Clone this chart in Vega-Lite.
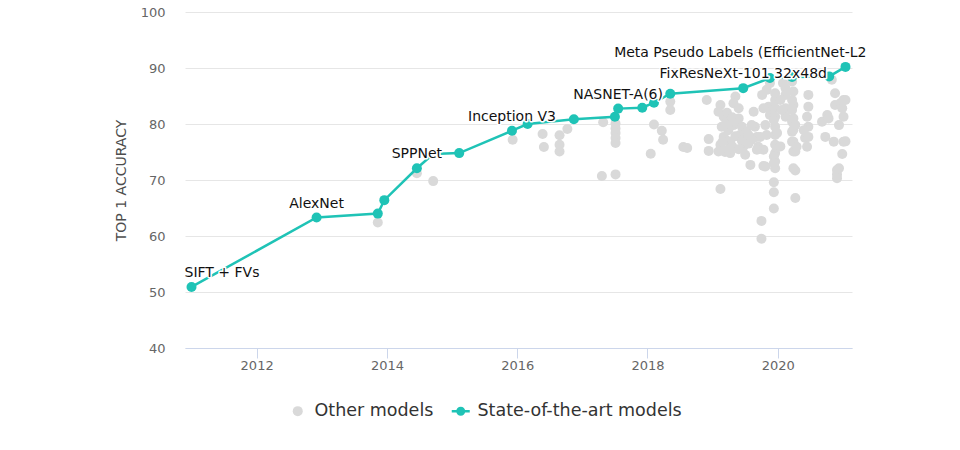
{
  "$schema": "https://vega.github.io/schema/vega-lite/v6.json",
  "width": 667,
  "height": 336,
  "autosize": {"type": "none"},
  "padding": {"left": 185, "top": 12, "right": 108, "bottom": 102},
  "background": "white",
  "config": {"view": {"stroke": null}, "font": "DejaVu Sans"},
  "datasets": {
    "other": [
      {"year": 2013.86, "accuracy": 62.4, "series": "Other models"},
      {"year": 2014.46, "accuracy": 71.2, "series": "Other models"},
      {"year": 2014.71, "accuracy": 69.8, "series": "Other models"},
      {"year": 2015.93, "accuracy": 77.2, "series": "Other models"},
      {"year": 2016.39, "accuracy": 78.2, "series": "Other models"},
      {"year": 2016.41, "accuracy": 75.9, "series": "Other models"},
      {"year": 2016.65, "accuracy": 78.0, "series": "Other models"},
      {"year": 2016.65, "accuracy": 76.3, "series": "Other models"},
      {"year": 2016.65, "accuracy": 75.1, "series": "Other models"},
      {"year": 2016.77, "accuracy": 79.1, "series": "Other models"},
      {"year": 2017.32, "accuracy": 80.3, "series": "Other models"},
      {"year": 2017.30, "accuracy": 70.7, "series": "Other models"},
      {"year": 2017.51, "accuracy": 80.1, "series": "Other models"},
      {"year": 2017.51, "accuracy": 79.2, "series": "Other models"},
      {"year": 2017.51, "accuracy": 78.4, "series": "Other models"},
      {"year": 2017.51, "accuracy": 77.5, "series": "Other models"},
      {"year": 2017.51, "accuracy": 76.6, "series": "Other models"},
      {"year": 2017.51, "accuracy": 71.0, "series": "Other models"},
      {"year": 2018.05, "accuracy": 74.7, "series": "Other models"},
      {"year": 2018.10, "accuracy": 79.9, "series": "Other models"},
      {"year": 2018.22, "accuracy": 78.8, "series": "Other models"},
      {"year": 2018.24, "accuracy": 77.2, "series": "Other models"},
      {"year": 2018.35, "accuracy": 84.0, "series": "Other models"},
      {"year": 2018.35, "accuracy": 82.5, "series": "Other models"},
      {"year": 2018.55, "accuracy": 75.9, "series": "Other models"},
      {"year": 2018.61, "accuracy": 75.7, "series": "Other models"},
      {"year": 2018.91, "accuracy": 84.3, "series": "Other models"},
      {"year": 2018.94, "accuracy": 77.3, "series": "Other models"},
      {"year": 2018.94, "accuracy": 75.2, "series": "Other models"},
      {"year": 2019.12, "accuracy": 68.4, "series": "Other models"},
      {"year": 2019.12, "accuracy": 83.4, "series": "Other models"},
      {"year": 2019.09, "accuracy": 82.2, "series": "Other models"},
      {"year": 2019.17, "accuracy": 81.3, "series": "Other models"},
      {"year": 2019.14, "accuracy": 79.5, "series": "Other models"},
      {"year": 2019.17, "accuracy": 77.7, "series": "Other models"},
      {"year": 2019.12, "accuracy": 76.3, "series": "Other models"},
      {"year": 2019.09, "accuracy": 75.1, "series": "Other models"},
      {"year": 2019.19, "accuracy": 75.0, "series": "Other models"},
      {"year": 2019.35, "accuracy": 84.9, "series": "Other models"},
      {"year": 2019.32, "accuracy": 83.7, "series": "Other models"},
      {"year": 2019.40, "accuracy": 82.8, "series": "Other models"},
      {"year": 2019.40, "accuracy": 81.0, "series": "Other models"},
      {"year": 2019.32, "accuracy": 79.8, "series": "Other models"},
      {"year": 2019.24, "accuracy": 78.9, "series": "Other models"},
      {"year": 2019.27, "accuracy": 76.85, "series": "Other models"},
      {"year": 2019.27, "accuracy": 74.8, "series": "Other models"},
      {"year": 2019.42, "accuracy": 78.05, "series": "Other models"},
      {"year": 2019.47, "accuracy": 75.95, "series": "Other models"},
      {"year": 2019.50, "accuracy": 74.5, "series": "Other models"},
      {"year": 2019.58, "accuracy": 72.7, "series": "Other models"},
      {"year": 2019.63, "accuracy": 82.2, "series": "Other models"},
      {"year": 2019.65, "accuracy": 79.5, "series": "Other models"},
      {"year": 2019.68, "accuracy": 77.7, "series": "Other models"},
      {"year": 2019.70, "accuracy": 75.95, "series": "Other models"},
      {"year": 2019.22, "accuracy": 82.0, "series": "Other models"},
      {"year": 2019.27, "accuracy": 80.5, "series": "Other models"},
      {"year": 2019.20, "accuracy": 80.0, "series": "Other models"},
      {"year": 2019.30, "accuracy": 81.2, "series": "Other models"},
      {"year": 2019.37, "accuracy": 80.2, "series": "Other models"},
      {"year": 2019.45, "accuracy": 79.5, "series": "Other models"},
      {"year": 2019.22, "accuracy": 77.0, "series": "Other models"},
      {"year": 2019.35, "accuracy": 77.8, "series": "Other models"},
      {"year": 2019.30, "accuracy": 76.0, "series": "Other models"},
      {"year": 2019.45, "accuracy": 77.0, "series": "Other models"},
      {"year": 2019.52, "accuracy": 78.6, "series": "Other models"},
      {"year": 2019.55, "accuracy": 76.5, "series": "Other models"},
      {"year": 2019.40, "accuracy": 75.5, "series": "Other models"},
      {"year": 2019.25, "accuracy": 75.5, "series": "Other models"},
      {"year": 2019.15, "accuracy": 76.8, "series": "Other models"},
      {"year": 2019.55, "accuracy": 78.05, "series": "Other models"},
      {"year": 2019.76, "accuracy": 85.2, "series": "Other models"},
      {"year": 2019.83, "accuracy": 86.1, "series": "Other models"},
      {"year": 2019.86, "accuracy": 83.1, "series": "Other models"},
      {"year": 2019.88, "accuracy": 81.6, "series": "Other models"},
      {"year": 2019.96, "accuracy": 85.5, "series": "Other models"},
      {"year": 2019.96, "accuracy": 84.3, "series": "Other models"},
      {"year": 2019.96, "accuracy": 82.8, "series": "Other models"},
      {"year": 2019.96, "accuracy": 81.3, "series": "Other models"},
      {"year": 2019.96, "accuracy": 79.5, "series": "Other models"},
      {"year": 2019.96, "accuracy": 78.05, "series": "Other models"},
      {"year": 2019.96, "accuracy": 76.3, "series": "Other models"},
      {"year": 2019.96, "accuracy": 74.8, "series": "Other models"},
      {"year": 2019.96, "accuracy": 73.3, "series": "Other models"},
      {"year": 2019.96, "accuracy": 72.1, "series": "Other models"},
      {"year": 2020.12, "accuracy": 86.4, "series": "Other models"},
      {"year": 2020.12, "accuracy": 85.2, "series": "Other models"},
      {"year": 2020.12, "accuracy": 82.8, "series": "Other models"},
      {"year": 2020.12, "accuracy": 81.3, "series": "Other models"},
      {"year": 2020.22, "accuracy": 87.6, "series": "Other models"},
      {"year": 2020.22, "accuracy": 80.4, "series": "Other models"},
      {"year": 2020.22, "accuracy": 78.6, "series": "Other models"},
      {"year": 2020.22, "accuracy": 76.85, "series": "Other models"},
      {"year": 2019.81, "accuracy": 79.8, "series": "Other models"},
      {"year": 2019.83, "accuracy": 78.05, "series": "Other models"},
      {"year": 2019.78, "accuracy": 82.8, "series": "Other models"},
      {"year": 2019.73, "accuracy": 77.7, "series": "Other models"},
      {"year": 2019.78, "accuracy": 75.4, "series": "Other models"},
      {"year": 2019.60, "accuracy": 77.2, "series": "Other models"},
      {"year": 2019.60, "accuracy": 79.8, "series": "Other models"},
      {"year": 2019.68, "accuracy": 75.4, "series": "Other models"},
      {"year": 2019.88, "accuracy": 87.3, "series": "Other models"},
      {"year": 2020.08, "accuracy": 87.3, "series": "Other models"},
      {"year": 2020.04, "accuracy": 84.3, "series": "Other models"},
      {"year": 2020.06, "accuracy": 82.5, "series": "Other models"},
      {"year": 2019.94, "accuracy": 80.7, "series": "Other models"},
      {"year": 2019.99, "accuracy": 78.4, "series": "Other models"},
      {"year": 2020.04, "accuracy": 76.0, "series": "Other models"},
      {"year": 2019.94, "accuracy": 74.2, "series": "Other models"},
      {"year": 2019.78, "accuracy": 72.5, "series": "Other models"},
      {"year": 2019.81, "accuracy": 72.4, "series": "Other models"},
      {"year": 2019.94, "accuracy": 73.0, "series": "Other models"},
      {"year": 2019.94, "accuracy": 69.6, "series": "Other models"},
      {"year": 2019.94, "accuracy": 67.8, "series": "Other models"},
      {"year": 2019.94, "accuracy": 64.9, "series": "Other models"},
      {"year": 2019.75, "accuracy": 62.7, "series": "Other models"},
      {"year": 2019.75, "accuracy": 59.5, "series": "Other models"},
      {"year": 2020.27, "accuracy": 75.1, "series": "Other models"},
      {"year": 2020.27, "accuracy": 71.7, "series": "Other models"},
      {"year": 2020.27, "accuracy": 66.8, "series": "Other models"},
      {"year": 2020.24, "accuracy": 72.1, "series": "Other models"},
      {"year": 2020.24, "accuracy": 85.8, "series": "Other models"},
      {"year": 2020.24, "accuracy": 83.4, "series": "Other models"},
      {"year": 2020.24, "accuracy": 81.0, "series": "Other models"},
      {"year": 2020.24, "accuracy": 78.95, "series": "Other models"},
      {"year": 2020.24, "accuracy": 76.85, "series": "Other models"},
      {"year": 2020.24, "accuracy": 75.1, "series": "Other models"},
      {"year": 2020.47, "accuracy": 85.2, "series": "Other models"},
      {"year": 2020.47, "accuracy": 83.1, "series": "Other models"},
      {"year": 2020.45, "accuracy": 81.3, "series": "Other models"},
      {"year": 2020.42, "accuracy": 77.5, "series": "Other models"},
      {"year": 2020.47, "accuracy": 79.5, "series": "Other models"},
      {"year": 2020.47, "accuracy": 77.7, "series": "Other models"},
      {"year": 2020.27, "accuracy": 79.8, "series": "Other models"},
      {"year": 2020.40, "accuracy": 78.9, "series": "Other models"},
      {"year": 2020.29, "accuracy": 75.95, "series": "Other models"},
      {"year": 2020.45, "accuracy": 75.95, "series": "Other models"},
      {"year": 2020.22, "accuracy": 84.3, "series": "Other models"},
      {"year": 2020.22, "accuracy": 82.5, "series": "Other models"},
      {"year": 2020.68, "accuracy": 80.4, "series": "Other models"},
      {"year": 2020.73, "accuracy": 77.7, "series": "Other models"},
      {"year": 2020.76, "accuracy": 81.6, "series": "Other models"},
      {"year": 2020.78, "accuracy": 81.0, "series": "Other models"},
      {"year": 2020.83, "accuracy": 87.9, "series": "Other models"},
      {"year": 2020.86, "accuracy": 76.85, "series": "Other models"},
      {"year": 2020.88, "accuracy": 83.4, "series": "Other models"},
      {"year": 2020.88, "accuracy": 85.5, "series": "Other models"},
      {"year": 2020.91, "accuracy": 71.8, "series": "Other models"},
      {"year": 2020.91, "accuracy": 71.0, "series": "Other models"},
      {"year": 2020.91, "accuracy": 70.3, "series": "Other models"},
      {"year": 2020.94, "accuracy": 79.8, "series": "Other models"},
      {"year": 2020.94, "accuracy": 72.1, "series": "Other models"},
      {"year": 2020.96, "accuracy": 83.7, "series": "Other models"},
      {"year": 2020.99, "accuracy": 74.65, "series": "Other models"},
      {"year": 2020.99, "accuracy": 82.8, "series": "Other models"},
      {"year": 2021.01, "accuracy": 84.3, "series": "Other models"},
      {"year": 2021.01, "accuracy": 81.3, "series": "Other models"},
      {"year": 2021.01, "accuracy": 76.85, "series": "Other models"},
      {"year": 2021.04, "accuracy": 84.3, "series": "Other models"},
      {"year": 2021.04, "accuracy": 76.9, "series": "Other models"}
    ],
    "sota": [
      {"year": 2011.00, "accuracy": 50.9, "label": "SIFT + FVs", "series": "State-of-the-art models"},
      {"year": 2012.92, "accuracy": 63.3, "label": "AlexNet", "series": "State-of-the-art models"},
      {"year": 2013.86, "accuracy": 64.0, "label": "", "series": "State-of-the-art models"},
      {"year": 2013.96, "accuracy": 66.4, "label": "", "series": "State-of-the-art models"},
      {"year": 2014.46, "accuracy": 72.1, "label": "SPPNet", "series": "State-of-the-art models"},
      {"year": 2014.71, "accuracy": 74.65, "label": "", "series": "State-of-the-art models"},
      {"year": 2015.11, "accuracy": 74.8, "label": "", "series": "State-of-the-art models"},
      {"year": 2015.92, "accuracy": 78.8, "label": "Inception V3", "series": "State-of-the-art models"},
      {"year": 2016.16, "accuracy": 80.0, "label": "", "series": "State-of-the-art models"},
      {"year": 2016.87, "accuracy": 80.85, "label": "", "series": "State-of-the-art models"},
      {"year": 2017.50, "accuracy": 81.3, "label": "", "series": "State-of-the-art models"},
      {"year": 2017.55, "accuracy": 82.75, "label": "NASNET-A(6)", "series": "State-of-the-art models"},
      {"year": 2017.92, "accuracy": 82.9, "label": "", "series": "State-of-the-art models"},
      {"year": 2018.10, "accuracy": 83.8, "label": "", "series": "State-of-the-art models"},
      {"year": 2018.35, "accuracy": 85.4, "label": "", "series": "State-of-the-art models"},
      {"year": 2019.47, "accuracy": 86.4, "label": "FixResNeXt-101 32x48d", "series": "State-of-the-art models"},
      {"year": 2019.88, "accuracy": 88.2, "label": "", "series": "State-of-the-art models"},
      {"year": 2020.22, "accuracy": 88.4, "label": "", "series": "State-of-the-art models"},
      {"year": 2020.79, "accuracy": 88.5, "label": "", "series": "State-of-the-art models"},
      {"year": 2021.04, "accuracy": 90.2, "label": "Meta Pseudo Labels (EfficientNet-L2", "series": "State-of-the-art models"}
    ]
  },
  "layer": [
    {
      "data": {"name": "other"},
      "mark": {"type": "point", "filled": true, "opacity": 1, "size": 100, "strokeWidth": 0},
      "encoding": {
        "x": {
          "field": "year", "type": "quantitative",
          "scale": {"domain": [2010.9, 2021.14], "nice": false, "zero": false},
          "axis": {
            "values": [2012, 2014, 2016, 2018, 2020], "format": "d", "grid": false,
            "domainColor": "#ccd6eb", "tickColor": "#ccd6eb", "tickSize": 10,
            "labelPadding": 1, "labelFontSize": 13, "labelColor": "#666666",
            "labelFont": "DejaVu Sans", "title": null
          }
        },
        "y": {
          "field": "accuracy", "type": "quantitative",
          "scale": {"domain": [40, 100], "nice": false, "zero": false},
          "axis": {
            "values": [40, 50, 60, 70, 80, 90, 100], "grid": true, "gridColor": "#e6e6e6",
            "domain": false, "ticks": false, "labelPadding": 20, "labelFontSize": 13,
            "labelColor": "#666666", "labelFont": "DejaVu Sans",
            "title": "TOP 1 ACCURACY", "titleFontSize": 14, "titleFontWeight": "normal",
            "titleColor": "#4d4d4d", "titleFont": "DejaVu Sans", "titlePadding": 12
          }
        },
        "color": {
          "field": "series", "type": "nominal",
          "scale": {"domain": ["Other models", "State-of-the-art models"], "range": ["#d9d9d9", "#1fc3b6"]},
          "legend": {
            "orient": "none", "legendX": 104, "legendY": 390, "direction": "horizontal",
            "title": null, "labelFontSize": 17.5, "labelColor": "#333333", "labelFont": "DejaVu Sans",
            "symbolSize": 100, "labelOffset": 8, "columnPadding": 17, "labelLimit": 400, "padding": 0
          }
        },
        "shape": {
          "field": "series", "type": "nominal",
          "scale": {
            "domain": ["Other models", "State-of-the-art models"],
            "range": ["circle", "M-1.8,-0.25H1.8V0.25H-1.8ZM0.9,0A0.9,0.9 0 1,1 -0.9,0A0.9,0.9 0 1,1 0.9,0Z"]
          },
          "legend": {
            "orient": "none", "legendX": 104, "legendY": 390, "direction": "horizontal",
            "title": null, "labelFontSize": 17.5, "labelColor": "#333333", "labelFont": "DejaVu Sans",
            "symbolSize": 100, "labelOffset": 8, "columnPadding": 17, "labelLimit": 400, "padding": 0
          }
        }
      }
    },
    {
      "data": {"name": "sota"},
      "mark": {"type": "line", "color": "#1fc3b6", "strokeWidth": 2.5},
      "encoding": {
        "x": {"field": "year", "type": "quantitative"},
        "y": {"field": "accuracy", "type": "quantitative"}
      }
    },
    {
      "data": {"name": "sota"},
      "mark": {"type": "point", "filled": true, "opacity": 1, "size": 100, "strokeWidth": 0},
      "encoding": {
        "x": {"field": "year", "type": "quantitative"},
        "y": {"field": "accuracy", "type": "quantitative"},
        "color": {"field": "series", "type": "nominal"}
      }
    },
    {
      "data": {"name": "sota"},
      "transform": [{"filter": "datum.label != '' && datum.label != 'SIFT + FVs' && indexof(datum.label, 'Meta') < 0"}],
      "mark": {"type": "text", "fontSize": 14, "font": "DejaVu Sans", "baseline": "alphabetic", "dy": -10, "fill": "white", "stroke": "white", "strokeWidth": 3, "strokeJoin": "round"},
      "encoding": {
        "x": {"field": "year", "type": "quantitative"},
        "y": {"field": "accuracy", "type": "quantitative"},
        "text": {"field": "label"}
      }
    },
    {
      "data": {"name": "sota"},
      "transform": [{"filter": "datum.label != '' && datum.label != 'SIFT + FVs' && indexof(datum.label, 'Meta') < 0"}],
      "mark": {"type": "text", "fontSize": 14, "font": "DejaVu Sans", "baseline": "alphabetic", "dy": -10, "color": "#111111"},
      "encoding": {
        "x": {"field": "year", "type": "quantitative"},
        "y": {"field": "accuracy", "type": "quantitative"},
        "text": {"field": "label"}
      }
    },
    {
      "data": {"name": "sota"},
      "transform": [{"filter": "datum.label == 'SIFT + FVs'"}],
      "mark": {"type": "text", "fontSize": 14, "font": "DejaVu Sans", "baseline": "alphabetic", "align": "left", "dx": -7, "dy": -10, "fill": "white", "stroke": "white", "strokeWidth": 3, "strokeJoin": "round"},
      "encoding": {
        "x": {"field": "year", "type": "quantitative"},
        "y": {"field": "accuracy", "type": "quantitative"},
        "text": {"field": "label"}
      }
    },
    {
      "data": {"name": "sota"},
      "transform": [{"filter": "datum.label == 'SIFT + FVs'"}],
      "mark": {"type": "text", "fontSize": 14, "font": "DejaVu Sans", "baseline": "alphabetic", "align": "left", "dx": -7, "dy": -10, "color": "#111111"},
      "encoding": {
        "x": {"field": "year", "type": "quantitative"},
        "y": {"field": "accuracy", "type": "quantitative"},
        "text": {"field": "label"}
      }
    },
    {
      "data": {"name": "sota"},
      "transform": [{"filter": "indexof(datum.label, 'Meta') >= 0"}],
      "mark": {"type": "text", "fontSize": 14, "font": "DejaVu Sans", "baseline": "alphabetic", "align": "right", "dx": 21, "dy": -10, "fill": "white", "stroke": "white", "strokeWidth": 3, "strokeJoin": "round"},
      "encoding": {
        "x": {"field": "year", "type": "quantitative"},
        "y": {"field": "accuracy", "type": "quantitative"},
        "text": {"field": "label"}
      }
    },
    {
      "data": {"name": "sota"},
      "transform": [{"filter": "indexof(datum.label, 'Meta') >= 0"}],
      "mark": {"type": "text", "fontSize": 14, "font": "DejaVu Sans", "baseline": "alphabetic", "align": "right", "dx": 21, "dy": -10, "color": "#111111"},
      "encoding": {
        "x": {"field": "year", "type": "quantitative"},
        "y": {"field": "accuracy", "type": "quantitative"},
        "text": {"field": "label"}
      }
    }
  ]
}
